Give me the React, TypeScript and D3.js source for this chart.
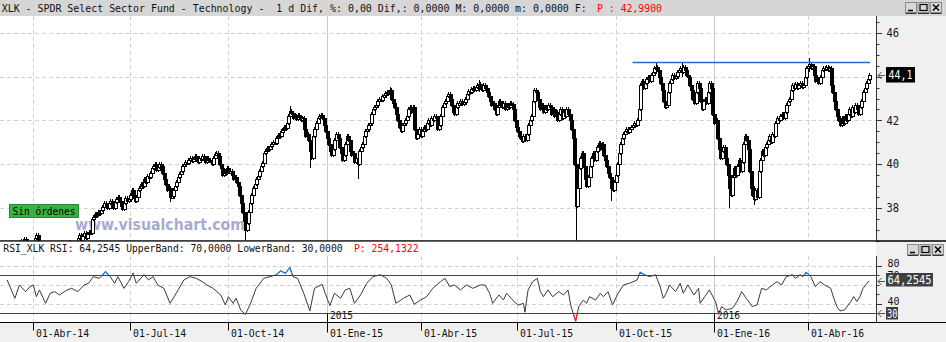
import React, { useMemo } from "react";
import * as d3 from "d3";

// ---------- texts ----------
const TITLE_TEXT = "XLK - SPDR Select Sector Fund - Technology -  1 d Dif, %: 0,00 Dif,: 0,0000 M: 0,0000 m: 0,0000 F:";
const TITLE_PRICE = "P : 42,9900";
const RSI_TEXT = "RSI_XLK RSI: 64,2545 UpperBand: 70,0000 LowerBand: 30,0000";
const RSI_PRICE = "P: 254,1322";
const LAST_PRICE_LABEL = "44,1";
const LAST_RSI_LABEL = "64,2545";
const BADGE_TEXT = "Sin órdenes";
const WATERMARK = "www.visualchart.com";

// ---------- calendar ----------
const START_DATE = "2014-03-03";
const HOLIDAYS = [
  "2014-04-18", "2014-05-26", "2014-07-04", "2014-09-01", "2014-11-27", "2014-12-25",
  "2015-01-01", "2015-01-19", "2015-02-16", "2015-04-03", "2015-05-25", "2015-07-03",
  "2015-09-07", "2015-11-26", "2015-12-25",
  "2016-01-01", "2016-01-18", "2016-02-15", "2016-03-25", "2016-05-30",
];

// ---------- daily closes ----------
const closes = [
  35.9, 36.1, 36.2, 36.35, 36.3, 36.1, 35.9, 35.7, 35.8, 36.0,
  36.2, 36.3, 36.45, 36.5, 36.4, 36.55, 36.45, 36.2, 35.9, 35.8,
  36.0,
  36.4, 36.6, 36.75, 36.5, 36.1,
  35.7, 35.3, 35.0, 34.8, 34.9, 35.2, 35.5, 35.3, 35.6, 35.9, 36.1,
  36.3, 36.2,
  35.9, 35.8, 35.9, 36.1,
  36.3, 36.45, 36.3, 36.1,
  36.0, 36.2,
  36.4, 36.6, 36.75, 36.5, 36.7, 36.85, 36.6, 36.8, 36.9, 36.85,
  37.5, 37.6, 37.7, 37.65, 37.8, 37.75,
  37.9, 38.05, 38.2, 38.1, 38.0, 38.2, 38.3, 38.15, 38.0, 38.25,
  38.4, 38.5, 38.3, 38.1, 37.95, 38.2, 38.45, 38.3, 38.4,
  38.6, 38.8, 38.5, 38.3, 38.5, 38.8, 38.9,
  39.1, 39.0, 39.3, 39.2, 39.45, 39.4,
  39.6, 39.8, 39.9, 40.0, 39.75, 39.85, 40.0, 39.9, 39.6,
  39.3, 39.1, 38.8, 38.9, 38.5, 38.55, 38.8,
  39.0, 39.2, 39.4, 39.55, 39.7, 39.9,
  40.0, 40.1, 40.05,
  40.2, 40.3, 40.15, 40.25, 40.35, 40.2, 40.1, 40.3, 40.25, 40.35, 40.2, 40.1, 40.3, 40.2, 40.15, 40.0, 40.3,
  40.45, 40.5, 40.35,
  40.0, 39.8, 39.5, 39.7, 39.6,
  39.8, 39.65, 39.7, 39.5, 39.3, 39.4, 39.2, 39.0,
  38.6, 38.2, 37.8,
  37.4, 37.0, 37.3,
  37.8, 38.2,
  38.6, 38.9, 39.1, 39.3, 39.45,
  39.7, 39.9, 40.05,
  40.5, 40.6, 40.75, 40.7, 40.85, 40.9, 41.0, 40.95,
  41.2, 41.35, 41.3, 41.5, 41.55, 41.7, 41.65, 41.9,
  42.2, 42.45, 42.35,
  42.1, 42.2, 42.05, 42.25, 42.15, 42.0, 42.1,
  41.6, 41.3, 41.4, 41.1,
  40.6, 40.3,
  41.3, 41.6, 41.9,
  42.1, 42.2, 42.25, 42.1,
  41.8, 41.5, 41.2,
  40.9, 40.6, 40.4, 40.7,
  41.1, 41.4, 41.2,
  40.8, 40.5, 40.2, 40.4,
  40.9, 41.3, 41.1,
  40.6, 40.4, 40.5, 40.1, 40.3, 40.0,
  40.6, 40.8, 40.9,
  41.3, 41.5, 41.6, 41.8, 41.9,
  42.3, 42.5, 42.6, 42.7,
  42.9, 43.0, 42.95, 43.1, 43.15, 43.25, 43.3, 43.2, 43.4,
  43.0, 42.8, 42.6,
  42.3, 42.0, 41.7, 41.5, 41.8,
  41.9, 42.0, 42.2,
  42.5, 42.6, 42.4, 42.6,
  41.6, 41.2,
  41.4, 41.6, 41.3, 41.5, 41.7, 41.6,
  41.9, 42.0, 41.8, 42.1, 42.0, 42.2, 42.1,
  41.6, 41.8,
  42.2, 42.6, 42.8, 42.9,
  43.1, 43.2, 43.0,
  42.7, 42.4, 42.3, 42.6, 42.8,
  42.8, 42.9, 42.75, 42.85, 43.0,
  43.2, 43.35, 43.3, 43.45, 43.5,
  43.4, 43.55, 43.6, 43.65, 43.5, 43.4, 43.6, 43.5, 43.3,
  43.1, 42.9, 42.7, 42.8,
  42.5, 42.3, 42.6, 42.9, 42.7,
  42.6, 42.8, 42.5, 42.7, 42.6, 42.8, 42.75, 42.5,
  42.0, 41.7, 41.5, 41.3, 41.2, 41.05,
  41.3, 41.1, 41.4,
  41.8, 42.0, 42.2,
  42.9, 43.4, 43.3, 43.0,
  42.6, 42.5, 42.7, 42.4, 42.6, 42.5, 42.7, 42.6,
  42.3, 42.5, 42.2, 42.4, 42.0, 42.3, 42.5, 42.1, 42.4, 42.2, 42.5, 42.3, 42.0,
  41.6, 41.2,
  40.0, 38.1,
  38.9, 39.8, 40.3, 40.5,
  39.9, 39.3, 39.0, 39.4,
  39.9, 40.3, 40.5, 40.2,
  40.6, 40.8, 40.95, 40.7, 40.9,
  40.4, 40.2,
  39.9, 39.6, 39.4,
  38.9, 38.8,
  39.2,
  39.5, 40.0,
  40.5, 40.9, 41.2,
  41.4, 41.5, 41.6, 41.45, 41.6, 41.7,
  41.8, 41.9, 41.8, 42.0, 42.5,
  43.6, 43.8, 43.5,
  43.7, 43.9, 44.0, 43.8, 44.1, 44.2,
  44.4, 44.45, 44.3,
  44.0, 43.7, 43.4,
  42.9, 42.6, 42.7,
  43.3, 43.7,
  43.9, 44.1, 43.95, 44.05, 44.2,
  44.3, 44.4, 44.2, 44.45, 44.3, 44.1, 44.0,
  43.6, 43.4,
  43.0, 42.8,
  43.3, 43.7, 43.5,
  42.9, 42.5,
  42.9, 43.0, 42.8,
  43.3, 43.7, 43.5,
  42.3, 41.9, 42.0,
  41.2, 40.7, 40.3, 40.6,
  40.8, 40.3, 40.0,
  39.5, 38.9, 38.6,
  39.4, 39.8, 39.5, 39.9, 40.2, 39.7, 40.1,
  40.9, 41.3, 41.1, 40.7,
  39.7,
  38.9, 38.6, 38.4, 38.8, 38.5,
  39.7,
  40.2, 40.6, 40.4, 40.8, 40.9,
  41.1, 41.3, 41.0, 41.4, 41.3,
  41.9, 42.1, 42.0, 42.2, 42.3, 42.1, 42.4,
  42.7, 42.9, 43.0,
  43.4, 43.6, 43.5, 43.65, 43.5, 43.6, 43.7, 43.55, 43.6,
  44.0, 44.4,
  44.5, 44.6, 44.4, 44.5,
  44.1, 43.8, 43.9, 43.7, 44.0,
  44.3, 44.4, 44.35, 44.45, 44.3, 44.4,
  43.6, 43.3,
  42.9, 42.5, 42.2,
  42.0, 41.8, 42.1, 41.9, 42.2, 42.0,
  42.3, 42.5, 42.2, 42.6, 42.4, 42.7, 42.5, 42.3, 42.6,
  42.9, 43.3, 43.5,
  43.7, 43.9, 44.1,
];

// notable shadows: [day index, high, low]
const wickIdx = [110, 159, 188, 201, 232, 253, 311, 374, 397, 426, 443, 474, 490, 526];
const wickHigh = [38.9, 37.4, 42.55, 40.6, 40.5, 43.45, 43.75, 40.0, 39.2, 44.6, 44.6, 39.0, 38.9, 44.75];
const wickLow = [38.35, 36.6, 42.2, 39.9, 39.4, 43.1, 43.4, 36.5, 38.4, 44.2, 44.1, 38.06, 38.2, 44.3];

// ---------- RSI (trading-day index, value) ----------
const rsiIdx = [
  4, 9, 12, 16, 19, 21, 23, 25, 29, 32, 35, 38, 43, 46, 50, 54, 57, 60, 64, 68,
  71, 74, 76, 80, 83, 86, 88, 93, 96, 99, 102, 106, 110, 114, 119, 123, 127, 131, 134, 138,
  143, 146, 148, 151, 153, 156, 159, 162, 166, 171, 175, 179, 182, 185, 188, 190, 193, 197, 201, 204,
  209, 211, 214, 217, 221, 224, 227, 230, 234, 238, 242, 247, 251, 254, 257, 262, 266, 269, 273, 277,
  281, 286, 289, 292, 295, 299, 303, 307, 312, 315, 318, 320, 324, 327, 329, 332, 335, 337, 340, 341,
  343, 346, 349, 351, 353, 356, 359, 363, 366, 369, 371, 374, 376, 379, 381, 383, 387, 390, 392, 395,
  398, 401, 405, 409, 414, 416, 419, 422, 426, 429, 431, 433, 435, 439, 442, 444, 447, 451, 454, 455,
  458, 461, 465, 467, 469, 472, 476, 479, 482, 485, 489, 492, 495, 498, 502, 505, 508, 511, 515, 517,
  520, 522, 524, 527, 530, 533, 536, 540, 542, 544, 546, 549, 553, 555, 557, 559, 561, 565,
];
const rsiVal = [
  65.1, 45.8, 59.8, 52.8, 58.1, 59.8, 47.5, 54.6, 40.5, 51.1, 52.8, 49.3, 54.6, 56.3, 52.8, 59.8, 61.6, 68.6, 66.8, 73.9,
  68.6, 61.6, 68.6, 56.3, 63.3, 72.1, 61.6, 70.4, 65.1, 68.6, 59.8, 56.3, 40.5, 51.1, 65.1, 68.6, 66.8, 63.3, 59.8, 56.3,
  49.3, 38.8, 47.5, 40.5, 45.8, 33.5, 28.9, 38.8, 56.3, 66.8, 68.6, 70.4, 74.6, 72.1, 78.1, 68.6, 66.8, 51.1, 32.5, 56.3,
  60.5, 51.1, 38.1, 51.1, 45.8, 54.6, 56.3, 40.5, 49.3, 61.6, 68.6, 70.4, 66.8, 59.8, 40.5, 45.8, 49.3, 39.5, 44.0, 47.5,
  56.3, 63.3, 66.8, 58.1, 59.8, 54.6, 59.8, 56.3, 59.8, 59.8, 51.1, 40.5, 49.3, 44.0, 51.1, 45.8, 40.5, 38.8, 40.5, 31.1,
  54.6, 63.3, 66.8, 52.8, 47.5, 54.6, 47.5, 52.8, 49.3, 54.6, 37.0, 21.9, 37.0, 44.0, 40.5, 47.5, 44.0, 51.1, 47.5, 52.8,
  38.8, 49.3, 59.8, 61.6, 65.1, 73.2, 70.4, 68.6, 70.4, 58.1, 45.8, 51.1, 59.8, 52.8, 61.6, 51.1, 59.8, 49.3, 56.3, 40.5,
  47.5, 54.6, 42.3, 29.5, 37.0, 33.5, 35.3, 42.3, 52.8, 45.8, 37.0, 38.8, 56.3, 54.6, 59.8, 63.3, 59.8, 68.6, 70.4, 66.8,
  70.4, 68.6, 73.2, 68.6, 58.1, 63.3, 59.8, 56.3, 45.8, 37.0, 32.5, 33.5, 42.3, 47.5, 42.3, 47.5, 56.3, 64.25,
];

// ---------- axes ----------
const priceLabels = [38, 40, 42, 44, 46];
const resistanceLevel = 44.66;
const resistanceStart = "2015-10-16";
const tickDates = ["2014-04-01", "2014-07-01", "2014-10-01", "2015-01-01", "2015-04-01", "2015-07-01", "2015-10-01", "2016-01-01", "2016-04-01"];
const tickLabels = ["01-Abr-14", "01-Jul-14", "01-Oct-14", "01-Ene-15", "01-Abr-15", "01-Jul-15", "01-Oct-15", "01-Ene-16", "01-Abr-16"];
const yearDates = ["2015-01-01", "2016-01-01"];
const yearLabels = ["2015", "2016"];
const rsiGrid = [80, 60, 40];
const rsiLabels = [80, 70, 40];
const RSI_UPPER = 70;
const RSI_LOWER = 30;
const RSI_LAST = 64.2545;

const MONO = "'DejaVu Sans Mono', 'Liberation Mono', monospace";

function buildTradingDays(start: string, count: number): string[] {
  const hol = new Set(HOLIDAYS);
  const out: string[] = [];
  const d = new Date(start + "T00:00:00Z");
  while (out.length < count) {
    const dow = d.getUTCDay();
    const iso = d.toISOString().slice(0, 10);
    if (dow !== 0 && dow !== 6 && !hol.has(iso)) out.push(iso);
    d.setUTCDate(d.getUTCDate() + 1);
  }
  return out;
}

const W = 946, H = 342;
const PLOT_R = 876;
const MAIN_T = 16, MAIN_B = 240.5;
const RSI_T = 256, RSI_B = 322.5;

function Btns({ x, y }: { x: number; y: number }) {
  const items = [0, 1, 2];
  return (
    <g>
      {items.map((k) => {
        const bx = x + k * 12.5;
        return (
          <g key={k}>
            <rect x={bx + 0.5} y={y + 0.5} width={11} height={10} fill="#d8d8d8" stroke="#8a8a8a" />
            <line x1={bx + 0.5} x2={bx + 11.5} y1={y + 11.5} y2={y + 11.5} stroke="#333" />
            {k === 0 && <line x1={bx + 3} x2={bx + 8} y1={y + 8.5} y2={y + 8.5} stroke="#000" strokeWidth={1.5} />}
            {k === 1 && <rect x={bx + 2.5} y={y + 2.5} width={7} height={6} fill="none" stroke="#000" strokeWidth={1.2} />}
            {k === 2 && (
              <path d={`M${bx + 3},${y + 2.5} L${bx + 9},${y + 8.5} M${bx + 9},${y + 2.5} L${bx + 3},${y + 8.5}`} stroke="#000" strokeWidth={1.5} />
            )}
          </g>
        );
      })}
    </g>
  );
}

function LeftArrow({ x, y }: { x: number; y: number }) {
  return <path d={`M${x + 7},${y} H${x} M${x + 3.5},${y - 3.5} L${x},${y} L${x + 3.5},${y + 3.5}`} fill="none" stroke="#555" strokeWidth={1} />;
}

export default function App() {
  const n = closes.length;
  const dates = useMemo(() => buildTradingDays(START_DATE, n), [n]);

  const x = d3.scaleLinear().domain([21, 525]).range([33.3, 807.7]);
  const y = d3.scaleLinear().domain([38, 46]).range([207.8, 33]);
  const yr = d3.scaleLinear().domain([RSI_LOWER, RSI_UPPER]).range([313.3, 275.3]);

  const idxOf = (iso: string) => d3.bisectLeft(dates, iso);
  const ticks = tickDates.map((d, i) => ({ x: Math.round(x(idxOf(d))) + 0.5, label: tickLabels[i] }));
  const years = yearDates.map((d, i) => ({ x: Math.round(x(idxOf(d))) + 0.5, label: yearLabels[i] }));

  const wmap = new Map<number, [number, number]>();
  wickIdx.forEach((k, i) => wmap.set(k, [wickHigh[i], wickLow[i]]));

  const candles = closes.map((c, i) => {
    const o = i === 0 ? c - 0.1 : closes[i - 1];
    const top = Math.max(o, c), bot = Math.min(o, c);
    const w = wmap.get(i);
    const hi = w ? Math.max(w[0], top) : top;
    const lo = w ? Math.min(w[1], bot) : bot;
    const cx = Math.round(x(i));
    const yt = Math.round(y(top)), yb = Math.round(y(bot));
    return { i, up: c >= o, cx, yt, yb, yh: Math.round(y(hi)) - 2, yl: Math.round(y(lo)) + 2 };
  });

  const rsiPts = rsiIdx.map((k, i) => [x(k), yr(rsiVal[i])] as [number, number]);
  const rsiPath = d3.line()(rsiPts) || "";

  const minorTicks = d3.range(36.5, 46.75, 0.5);
  const rsiTicks = d3.range(30, 81, 10);

  const dash = "4,3";
  const gridCol = "#d2d2d2";

  return (
    <svg width={W} height={H} style={{ position: "fixed", left: 0, top: 0, display: "block" }} fontFamily={MONO}>
      <defs>
        <clipPath id="mainClip"><rect x={0} y={MAIN_T} width={PLOT_R} height={MAIN_B - MAIN_T} /></clipPath>
        <clipPath id="rsiClip"><rect x={0} y={RSI_T} width={PLOT_R} height={RSI_B - RSI_T} /></clipPath>
        <clipPath id="rsiHi"><rect x={0} y={RSI_T} width={PLOT_R} height={yr(RSI_UPPER) - RSI_T} /></clipPath>
        <clipPath id="rsiLo"><rect x={0} y={yr(RSI_LOWER)} width={PLOT_R} height={RSI_B - yr(RSI_LOWER)} /></clipPath>
      </defs>
      <rect x={0} y={0} width={W} height={H} fill="#ffffff" />

      {/* header */}
      <rect x={0} y={0} width={W} height={MAIN_T} fill="#d6d6d6" />
      <text x={1.7} y={12} fontSize={10} fill="#111" textLength={TITLE_TEXT.length * 5.97} lengthAdjust="spacingAndGlyphs" style={{ whiteSpace: "pre" }}>{TITLE_TEXT}</text>
      <text x={597} y={12} fontSize={10} fill="#ff0000" textLength={65} lengthAdjust="spacingAndGlyphs" style={{ whiteSpace: "pre" }}>{TITLE_PRICE}</text>
      <Btns x={905} y={2} />

      {/* right axis panel + bottom axis background */}
      <rect x={PLOT_R} y={MAIN_T} width={W - PLOT_R} height={RSI_B - MAIN_T} fill="#f0f0f0" />
      <rect x={0} y={RSI_B} width={W} height={H - RSI_B} fill="#f0f0f0" />

      {/* main grid */}
      {priceLabels.map((v) => (
        <line key={"hg" + v} x1={0} x2={PLOT_R} y1={Math.round(y(v)) + 0.5} y2={Math.round(y(v)) + 0.5} stroke={gridCol} strokeDasharray={dash} />
      ))}
      {ticks.map((t) => {
        const isYear = years.some((yy) => yy.x === t.x);
        return (
          <g key={"vg" + t.label}>
            <line x1={t.x} x2={t.x} y1={MAIN_T} y2={MAIN_B} stroke={isYear ? "#c8c8c8" : gridCol} strokeDasharray={isYear ? undefined : dash} />
            <line x1={t.x} x2={t.x} y1={RSI_T - 14} y2={RSI_B} stroke={isYear ? "#c8c8c8" : gridCol} strokeDasharray={isYear ? undefined : dash} />
          </g>
        );
      })}

      {/* badge & watermark */}
      <rect x={9.5} y={204.5} width={69} height={13} fill="#3cb043" stroke="#2b8a2f" />
      <text x={12.5} y={214.5} fontSize={10.5} fill="#000" textLength={63} lengthAdjust="spacingAndGlyphs">{BADGE_TEXT}</text>
      <text x={75} y={229.5} fontSize={16} fontWeight="bold" fontFamily="'DejaVu Sans', Verdana, sans-serif" fill="#a7abd2" textLength={170} lengthAdjust="spacingAndGlyphs">{WATERMARK}</text>

      {/* candles */}
      <g clipPath="url(#mainClip)" shapeRendering="crispEdges">
        {candles.map((c) => (
          <g key={c.i}>
            <line x1={c.cx + 0.5} x2={c.cx + 0.5} y1={c.yh} y2={c.yl} stroke="#000" />
            <rect x={c.cx - 0.5} y={c.yt + 0.5} width={2.5} height={Math.max(1.5, c.yb - c.yt)} fill={c.up ? "#fff" : "#000"} stroke="#000" />
          </g>
        ))}
      </g>

      {/* resistance line */}
      <line x1={x(idxOf(resistanceStart))} x2={x(n - 1) + 1} y1={Math.round(y(resistanceLevel)) + 0.5} y2={Math.round(y(resistanceLevel)) + 0.5} stroke="#1a6fd0" strokeWidth={1.3} />

      {/* main right axis */}
      <line x1={PLOT_R + 0.5} x2={PLOT_R + 0.5} y1={MAIN_T} y2={MAIN_B} stroke="#333" />
      {minorTicks.map((v) => {
        const major = priceLabels.includes(v);
        const yy = Math.round(y(v)) + 0.5;
        return <line key={"mt" + v} x1={PLOT_R} x2={PLOT_R + (major ? 6 : 3.5)} y1={yy} y2={yy} stroke="#333" />;
      })}
      {priceLabels.filter((v) => Math.abs(v - closes[n - 1]) > 0.5).map((v) => (
        <text key={"pl" + v} x={886.5} y={y(v)} dy="0.36em" fontSize={11.5} fill="#111" textLength={12.6} lengthAdjust="spacingAndGlyphs">{v}</text>
      ))}
      <LeftArrow x={878} y={Math.round(y(closes[n - 1])) + 0.5} />
      <rect x={886} y={y(closes[n - 1]) - 7.5} width={29} height={15.5} fill="#000" />
      <text x={888.5} y={y(closes[n - 1])} dy="0.36em" fontSize={12} fill="#fff" textLength={24} lengthAdjust="spacingAndGlyphs">{LAST_PRICE_LABEL}</text>

      {/* panel separator */}
      <line x1={0} x2={W} y1={MAIN_B + 0.5} y2={MAIN_B + 0.5} stroke="#000" strokeWidth={1.5} />

      {/* RSI panel */}
      <rect x={0} y={MAIN_B + 1.3} width={PLOT_R} height={RSI_T - MAIN_B - 1.3} fill="#fff" />
      <text x={3.3} y={251.7} fontSize={10} fill="#111" textLength={RSI_TEXT.length * 5.85} lengthAdjust="spacingAndGlyphs">{RSI_TEXT}</text>
      <text x={354} y={251.7} fontSize={10} fill="#ff0000" textLength={64.5} lengthAdjust="spacingAndGlyphs">{RSI_PRICE}</text>
      <Btns x={907} y={244} />
      {rsiGrid.map((v) => (
        <line key={"rg" + v} x1={0} x2={PLOT_R} y1={Math.round(yr(v)) + 0.5} y2={Math.round(yr(v)) + 0.5} stroke={gridCol} strokeDasharray={dash} />
      ))}
      {[RSI_UPPER, RSI_LOWER].map((v) => (
        <line key={"band" + v} x1={0} x2={PLOT_R} y1={Math.round(yr(v)) + 0.5} y2={Math.round(yr(v)) + 0.5} stroke="#444" />
      ))}
      <g clipPath="url(#rsiClip)">
        <path d={rsiPath} fill="none" stroke="#3a3a3a" strokeWidth={1} />
        <g clipPath="url(#rsiHi)"><path d={rsiPath} fill="none" stroke="#1a7ae0" strokeWidth={1.1} /></g>
        <g clipPath="url(#rsiLo)"><path d={rsiPath} fill="none" stroke="#ff2020" strokeWidth={1.1} /></g>
      </g>
      {years.map((yy) => (
        <g key={"yr" + yy.label}>
          <line x1={yy.x} x2={yy.x} y1={yr(RSI_LOWER)} y2={RSI_B + 10} stroke="#000" />
          <text x={yy.x + 2.5} y={318.5} fontSize={10.5} fill="#111" textLength={23} lengthAdjust="spacingAndGlyphs">{yy.label}</text>
        </g>
      ))}

      {/* RSI right axis */}
      <line x1={PLOT_R + 0.5} x2={PLOT_R + 0.5} y1={RSI_T} y2={RSI_B} stroke="#333" />
      {rsiTicks.map((v) => {
        const yy = Math.round(yr(v)) + 0.5;
        return <line key={"rt" + v} x1={PLOT_R} x2={PLOT_R + (v === 80 || v === 40 ? 6 : 3.5)} y1={yy} y2={yy} stroke="#333" />;
      })}
      {rsiLabels.map((v) => (
        <text key={"rl" + v} x={887.5} y={yr(v)} dy={v === 70 ? "0.3em" : "0.1em"} fontSize={11} fill="#111" textLength={12} lengthAdjust="spacingAndGlyphs">{v}</text>
      ))}
      <LeftArrow x={878} y={Math.round(yr(RSI_LAST)) + 0.5} />
      <rect x={886} y={273} width={47} height={13.5} fill="#404040" />
      <text x={887.5} y={279.8} dy="0.36em" fontSize={12} fill="#fff" textLength={44} lengthAdjust="spacingAndGlyphs">{LAST_RSI_LABEL}</text>
      <LeftArrow x={878} y={Math.round(yr(RSI_LOWER)) + 0.5} />
      <rect x={886} y={307} width={12} height={12.5} fill="#404040" />
      <text x={887} y={313.3} dy="0.36em" fontSize={12} fill="#fff" textLength={10.5} lengthAdjust="spacingAndGlyphs">{RSI_LOWER}</text>

      {/* bottom separator & date axis */}
      <line x1={0} x2={W} y1={RSI_B} y2={RSI_B} stroke="#000" />
      {ticks.map((t) => (
        <g key={"xt" + t.label}>
          <line x1={t.x} x2={t.x} y1={RSI_B} y2={RSI_B + 8} stroke="#000" />
          <text x={t.x + 2.5} y={336.8} fontSize={10} fill="#111" textLength={t.label.length * 5.9} lengthAdjust="spacingAndGlyphs">{t.label}</text>
        </g>
      ))}
    </svg>
  );
}
